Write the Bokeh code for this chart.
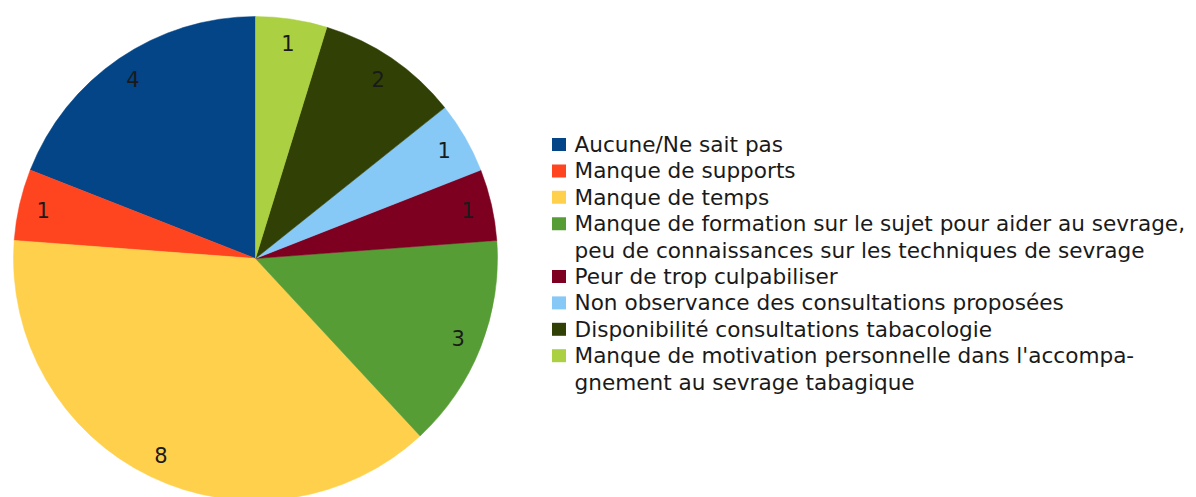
import numpy as np
from bokeh.plotting import figure
from bokeh.models import Range1d, ColumnDataSource
from bokeh.core.properties import value
from bokeh.embed import file_html
from bokeh.resources import INLINE

# ---- data ----
categories = [
    "Aucune/Ne sait pas",
    "Manque de supports",
    "Manque de temps",
    "Manque de formation sur le sujet pour aider au sevrage,\npeu de connaissances sur les techniques de sevrage",
    "Peur de trop culpabiliser",
    "Non observance des consultations proposées",
    "Disponibilité consultations tabacologie",
    "Manque de motivation personnelle dans l'accompa-\ngnement au sevrage tabagique",
]
counts = [4, 1, 8, 3, 1, 1, 2, 1]
colors = ["#034586", "#ff4420", "#ffd04c", "#579d36", "#7e0021", "#86c9f7", "#314004", "#abd042"]

W, H = 1196, 497
FONT = "DejaVu Sans"

p = figure(width=W, height=H, output_backend="svg", toolbar_location=None,
           x_range=Range1d(0, W), y_range=Range1d(0, H), min_border=0,
           x_axis_location=None, y_axis_location=None)
p.grid.visible = False
p.outline_line_color = None
p.background_fill_color = "white"
p.border_fill_color = "white"

# pie geometry (screen px -> data, y up)
cx, cy, r = 255, H - 258, 242
vals = np.array(counts, dtype=float)
frac = vals / vals.sum() * 2 * np.pi
starts = np.pi / 2 + np.concatenate([[0], np.cumsum(frac)[:-1]])
ends = starts + frac
mids = (starts + ends) / 2

src = ColumnDataSource(dict(start=starts, end=ends, color=colors))
p.wedge(x=cx, y=cy, radius=r, start_angle="start", end_angle="end",
        fill_color="color", line_color="color", line_width=0.5, source=src)

lr = 0.9 * r
p.text(x=cx + lr * np.cos(mids), y=cy + lr * np.sin(mids), text=[str(c) for c in counts],
       text_font=value(FONT), text_font_size="21px", text_color="#1a1a1a",
       text_align="center", text_baseline="middle")

# legend
lx_sq, lx_txt = 558.5, 574
y0, step = 144, 26.4
line_i = 0
sq_x, sq_y, sq_c = [], [], []
tx, ty, tt = [], [], []
for lab, col in zip(categories, colors):
    parts = lab.split("\n")
    sq_x.append(lx_sq); sq_y.append(H - (y0 + step * line_i)); sq_c.append(col)
    for part in parts:
        tx.append(lx_txt); ty.append(H - (y0 + step * line_i)); tt.append(part)
        line_i += 1

p.rect(x=sq_x, y=sq_y, width=14, height=13, fill_color=sq_c, line_color=None)
p.text(x=tx, y=ty, text=tt, text_font=value(FONT), text_font_size="21.6px",
       text_color="#1a1a1a", text_align="left", text_baseline="middle")

open("out.html", "w").write(file_html(p, INLINE))
